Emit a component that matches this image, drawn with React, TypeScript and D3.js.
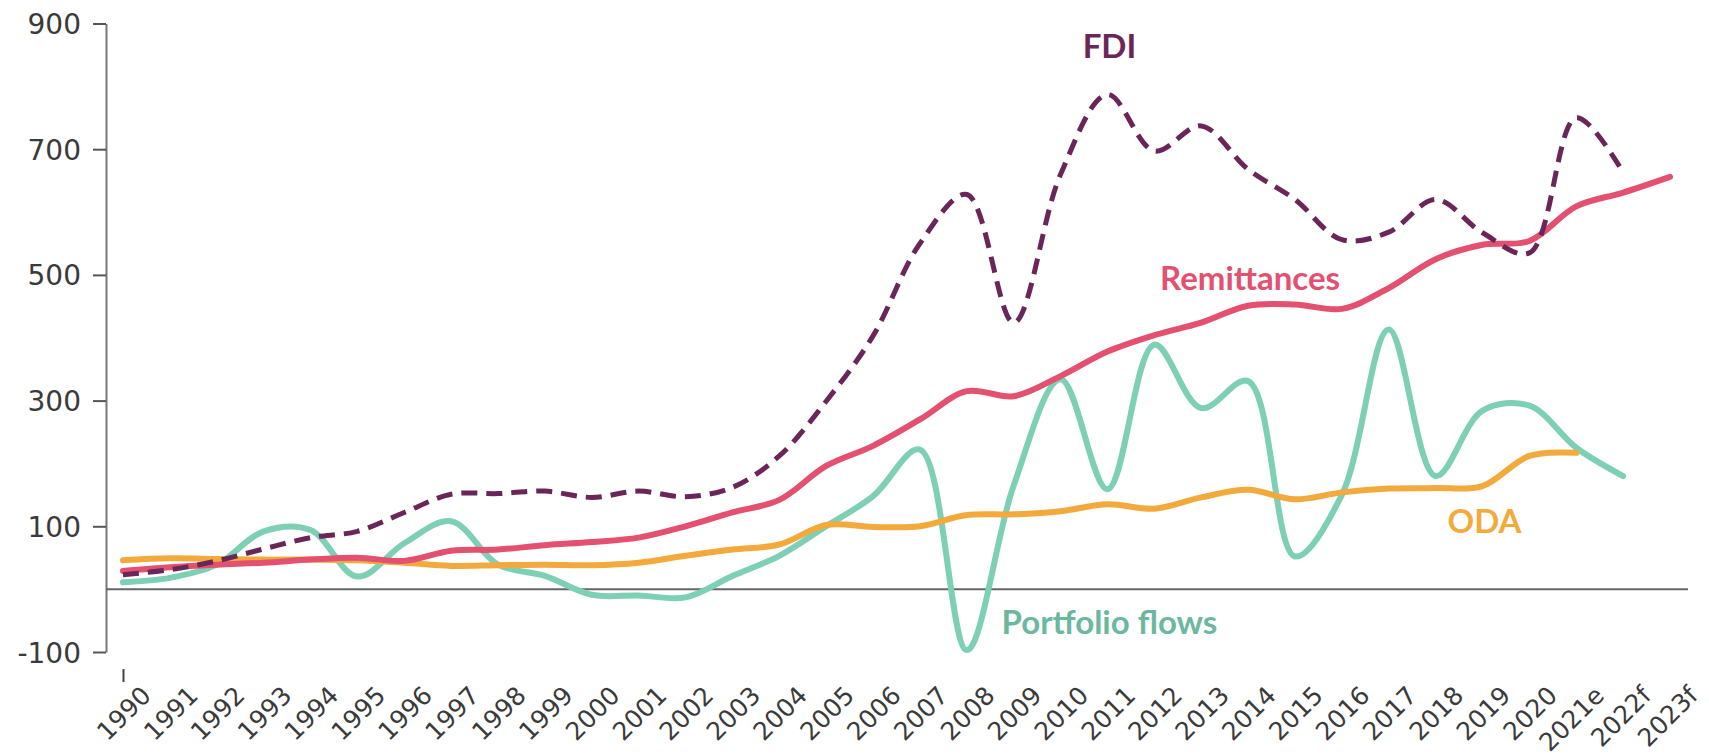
import React, { useEffect, useRef } from 'react';
import * as d3 from 'd3';

// categories (x axis)
const years = [
  '1990', '1991', '1992', '1993', '1994', '1995', '1996', '1997', '1998', '1999',
  '2000', '2001', '2002', '2003', '2004', '2005', '2006', '2007', '2008', '2009',
  '2010', '2011', '2012', '2013', '2014', '2015', '2016', '2017', '2018', '2019',
  '2020', '2021e', '2022f', '2023f',
];

// series values, US$ billions (null = no data)
const fdi = [
  23, 31, 45, 64, 82, 92, 122, 151, 152, 156,
  146, 156, 147, 162, 212, 299, 403, 550, 628, 424,
  660, 787, 697, 737, 668, 620, 556, 568, 620, 567,
  535, 750, 663, null,
];
const remittances = [
  29, 35, 39, 42, 47, 50, 45, 61, 63, 70,
  75, 82, 100, 122, 142, 196, 228, 270, 315, 307,
  339, 378, 404, 424, 451, 453, 446, 479, 525, 548,
  554, 609, 631, 656,
];
const portfolio = [
  11, 18, 39, 92, 94, 20, 73, 108, 39, 21,
  -9, -10, -13, 21, 53, 100, 148, 222, -97, 165,
  334, 159, 389, 288, 331, 52, 150, 413, 180, 284,
  292, 225, 180, null,
];
const oda = [
  46, 49, 48, 47, 47, 46, 42, 37, 38, 39,
  38, 42, 53, 63, 71, 102, 99, 100, 118, 119,
  124, 135, 128, 146, 158, 143, 154, 160, 161, 164,
  212, 217, null, null,
];

const yTicks = [-100, 100, 300, 500, 700, 900];

const App = () => {
  const ref = useRef<SVGSVGElement>(null);

  useEffect(() => {
    const svg = d3.select(ref.current);
    svg.selectAll('*').remove();

    const x = d3.scalePoint<string>().domain(years).range([123, 1670]);
    const y = d3.scaleLinear().domain([-100, 900]).range([652, 23.5]);

    const tickFont = '"DejaVu Sans", sans-serif';
    const labelFont = 'Lato, "Noto Sans", sans-serif';

    // y axis
    const yAxis = svg.append('g')
      .attr('transform', 'translate(106,0)')
      .call(d3.axisLeft(y)
        .tickValues(yTicks)
        .tickFormat(d => String(d))
        .tickSize(13)
        .tickSizeOuter(0)
        .tickPadding(12));
    yAxis.select('.domain').attr('stroke', '#777').attr('stroke-width', 2);
    yAxis.selectAll('.tick line').attr('stroke', '#555').attr('stroke-width', 2);
    yAxis.selectAll('.tick text')
      .attr('font-family', tickFont)
      .attr('font-size', 28)
      .attr('fill', '#3a3a3a')
      .attr('dy', '0.36em');

    // zero line
    svg.append('line')
      .attr('x1', 106).attr('x2', x.range()[1] + 18)
      .attr('y1', y(0)).attr('y2', y(0))
      .attr('stroke', '#666').attr('stroke-width', 2);

    // x axis: only the first tick mark shows
    const xAxis = svg.append('g')
      .attr('transform', 'translate(0,669)')
      .call(d3.axisBottom(x).tickSize(13).tickSizeOuter(0));
    xAxis.select('.domain').remove();
    xAxis.selectAll('.tick line')
      .attr('stroke', '#444').attr('stroke-width', 2)
      .attr('opacity', (d, i) => (i === 0 ? 1 : 0));
    xAxis.selectAll('.tick text')
      .attr('font-family', tickFont)
      .attr('font-size', 25)
      .attr('fill', '#3a3a3a')
      .attr('text-anchor', 'end')
      .attr('x', 0).attr('y', 0).attr('dy', 0)
      .attr('transform', 'translate(29,28) rotate(-45)');

    const line = d3.line<number | null>()
      .defined(d => d != null)
      .x((d, i) => x(years[i]) as number)
      .y(d => y(d as number))
      .curve(d3.curveCatmullRom.alpha(0.5));

    const series = [
      { values: portfolio, color: '#7dcfb6', dash: null, width: 6 },
      { values: oda, color: '#f3aa3c', dash: null, width: 6 },
      { values: remittances, color: '#e4506f', dash: null, width: 6 },
      { values: fdi, color: '#6a2559', dash: '16 9', width: 5 },
    ];

    series.forEach(s => {
      svg.append('path')
        .datum(s.values)
        .attr('d', line)
        .attr('fill', 'none')
        .attr('stroke', s.color)
        .attr('stroke-width', s.width)
        .attr('stroke-linejoin', 'round')
        .attr('stroke-linecap', s.dash ? 'butt' : 'round')
        .attr('stroke-dasharray', s.dash);
    });

    // direct labels
    const labels = [
      { text: 'FDI', at: '2011', value: 845, color: '#6a2559' },
      { text: 'Remittances', at: '2014', value: 476, color: '#e4506f' },
      { text: 'Portfolio flows', at: '2011', value: -71, color: '#6cb89f' },
      { text: 'ODA', at: '2019', value: 89, color: '#f3aa3c' },
    ];
    svg.selectAll('.label')
      .data(labels)
      .enter().append('text')
      .attr('class', 'label')
      .attr('x', d => (x(d.at) as number) + 2)
      .attr('y', d => y(d.value))
      .attr('text-anchor', 'middle')
      .attr('font-family', labelFont)
      .attr('font-weight', 700)
      .attr('font-size', 33)
      .attr('fill', d => d.color)
      .text(d => d.text);
  }, []);

  return (
    <svg
      ref={ref}
      width={1709}
      height={756}
      style={{ position: 'absolute', left: 0, top: 0, background: '#fff' }}
    />
  );
};

export default App;
